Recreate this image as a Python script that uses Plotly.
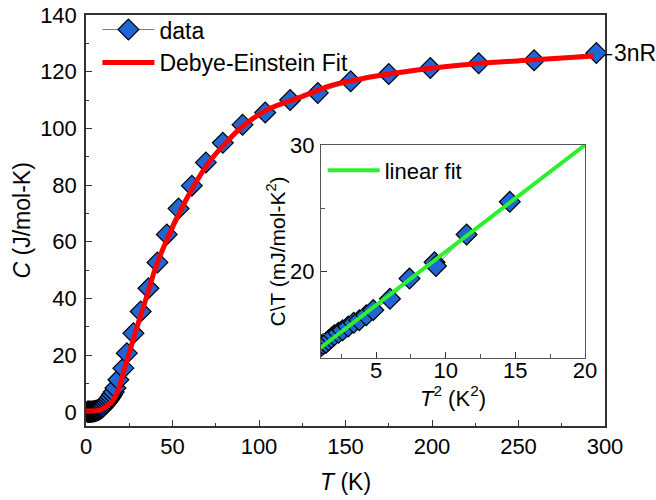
import plotly.graph_objects as go

# ---------------- data (main panel) ----------------
T_data = [0.8, 1.0, 1.2, 1.4, 1.6, 1.8, 2.0, 2.3, 2.6, 3.0, 3.4, 3.8, 4.3, 4.8, 5.3, 5.8,
          6.4, 7.0, 7.6, 8.2, 8.8, 9.4, 10.0, 10.7, 11.4, 12.1, 12.8, 13.5, 14.3, 15.1, 16.0,
          17.0, 18.7, 21.6, 23.6, 27.4, 31.6, 36.1, 41.3, 46.7, 53.5, 61.2, 69.3, 79.1,
          90.5, 103.6, 118.0, 134.0, 153.0, 175.0, 199.0, 227.0, 259.0, 295.0]
C_data = [0.01, 0.01, 0.02, 0.02, 0.02, 0.03, 0.03, 0.04, 0.05, 0.06, 0.08, 0.10, 0.14, 0.20,
          0.27, 0.36, 0.48, 0.64, 0.83, 1.05, 1.3, 1.6, 1.95, 2.4, 2.9, 3.4, 4.0, 4.6, 5.3,
          6.1, 7.0, 8.4, 11.3, 15.4, 20.7, 27.7, 35.4, 43.6, 52.7, 62.6, 71.7, 79.8, 88.0,
          94.9, 101.3, 105.6, 110.0, 112.5, 116.6, 119.2, 121.3, 123.0, 124.0, 126.6]

T_fit = [0, 4, 8, 10, 12.5, 14.9, 16.8, 18.7, 20.6, 22.6, 25.0, 27.4, 30.3, 33.2, 36.0,
         39.0, 41.9, 47.7, 54.4, 62.1, 70.8, 80.5, 91.0, 105.6, 124.0, 141.0, 160.0,
         180.0, 199.0, 227.0, 257.0, 293.6]
C_fit = [0.3, 0.3, 0.6, 1.2, 2.2, 3.4, 5.3, 7.8, 11.6, 16.0, 20.8, 25.6, 31.5, 37.1, 42.5,
         48.6, 53.6, 62.0, 70.6, 79.5, 87.8, 94.7, 101.0, 106.8, 111.0, 115.0, 117.6,
         119.6, 121.2, 122.9, 124.1, 125.5]

# ---------------- data (inset) ----------------
T2_data = [1.0, 1.2, 1.4, 1.6, 1.8, 2.0, 2.3, 2.6, 3.0, 3.4, 3.8, 4.3, 4.8, 6.0, 7.4,
           9.2, 9.3, 11.5, 14.6]
CT_data = [14.0, 14.2, 14.3, 14.5, 14.7, 14.9, 15.1, 15.3, 15.6, 15.9, 16.1, 16.5, 16.9,
           17.8, 19.4, 20.7, 20.4, 22.9, 25.5]
T2_fit = [1.0, 20.0]
CT_fit = [13.9, 30.0]

label_3nR = "3nR"
C_3nR = 126.0

FONT = "Liberation Sans, Arial, sans-serif"
BLUE = "#1f66d6"

fig = go.Figure()

fig.add_trace(go.Scatter(
    x=T_data, y=C_data, mode="lines+markers", name="data",
    line=dict(color="#7a7a7a", width=1),
    marker=dict(symbol="diamond", size=16, color=BLUE,
                line=dict(color="black", width=1.2)),
    legend="legend", xaxis="x", yaxis="y"))

fig.add_trace(go.Scatter(
    x=T_fit, y=C_fit, mode="lines", name="Debye-Einstein Fit",
    line=dict(color="#ff0000", width=5, shape="spline", smoothing=0.8),
    legend="legend", xaxis="x", yaxis="y"))

fig.add_trace(go.Scatter(
    x=T2_data, y=CT_data, mode="lines+markers", name="inset data", showlegend=False,
    line=dict(color="#7a7a7a", width=1),
    marker=dict(symbol="diamond", size=16, color=BLUE,
                line=dict(color="black", width=1.2)),
    xaxis="x2", yaxis="y2"))

fig.add_trace(go.Scatter(
    x=T2_fit, y=CT_fit, mode="lines", name="linear fit",
    line=dict(color="#2cf02c", width=4),
    legend="legend2", xaxis="x2", yaxis="y2"))

axis_common = dict(showline=True, mirror=True, linecolor="#333333", linewidth=1.5,
                   ticks="inside", ticklen=6, tickwidth=1.3, tickcolor="#333333",
                   showgrid=False, zeroline=False, automargin=False,
                   tickfont=dict(family=FONT, size=22, color="black"))

fig.update_layout(
    width=656, height=500,
    margin=dict(l=86, r=51, t=0, b=74, autoexpand=False),
    paper_bgcolor="white", plot_bgcolor="white",
    font=dict(family=FONT, size=22, color="black"),
    xaxis=dict(**axis_common, domain=[0, 1], range=[0, 300], dtick=50,
               minor=dict(dtick=25, ticks="inside", ticklen=3.5, tickcolor="#333333"),
               ticklabelstandoff=0,
               title=dict(text="<i>T</i> (K)", font=dict(family=FONT, size=23), standoff=16)),
    yaxis=dict(**axis_common, domain=[0, 0.9648], range=[-5, 140], dtick=20,
               minor=dict(dtick=10, ticks="inside", ticklen=3.5, tickcolor="#333333"),
               ticklabelstandoff=3),
    xaxis2=dict(**dict(axis_common, linecolor="#555555", linewidth=1.2),
                domain=[0.4528, 0.9615], range=[1.05, 20], dtick=5, anchor="y2",
                minor=dict(dtick=2.5, ticks="inside", ticklen=3.5, tickcolor="#555555"),
                ticklabelstandoff=-8,
                title=dict(text="<i>T</i><sup>2</sup> (K<sup>2</sup>)", font=dict(family=FONT, size=22), standoff=3)),
    yaxis2=dict(**dict(axis_common, linecolor="#555555", linewidth=1.2),
                domain=[0.1596, 0.6596], range=[13.1, 30], dtick=10, anchor="x2",
                minor=dict(dtick=5, ticks="inside", ticklen=3.5, tickcolor="#555555"),
                ticklabelstandoff=1),
    legend=dict(x=0.022, y=0.981, xanchor="left", yanchor="top", bgcolor="rgba(0,0,0,0)",
                font=dict(family=FONT, size=23), itemwidth=52, tracegroupgap=0),
    legend2=dict(x=0.456, y=0.649, xanchor="left", yanchor="top", bgcolor="rgba(0,0,0,0)",
                 font=dict(family=FONT, size=22), itemwidth=52),
    showlegend=True,
)

# y-axis titles placed as rotated annotations
fig.add_annotation(xref="paper", yref="paper", x=-0.1214, y=0.4824,
                   text="<i>C</i> (J/mol-K)", textangle=-90, showarrow=False,
                   xanchor="center", yanchor="middle",
                   font=dict(family=FONT, size=23, color="black"))
fig.add_annotation(xref="paper", yref="paper", x=0.3661, y=0.4096,
                   text="C\\T (mJ/mol-K<sup>2</sup>)", textangle=-90, showarrow=False,
                   xanchor="center", yanchor="middle",
                   font=dict(family=FONT, size=21, color="black"))

# 3nR marker tick and label at the right edge
fig.add_shape(type="line", xref="paper", yref="y", x0=1.0, x1=1.014, y0=C_3nR, y1=C_3nR,
              line=dict(color="black", width=1.3))
fig.add_annotation(xref="paper", yref="y", x=1.014, y=C_3nR + 0.5, text=label_3nR,
                   showarrow=False, xanchor="left", yanchor="middle",
                   font=dict(family=FONT, size=23, color="black"))

fig.write_html("out.html")
